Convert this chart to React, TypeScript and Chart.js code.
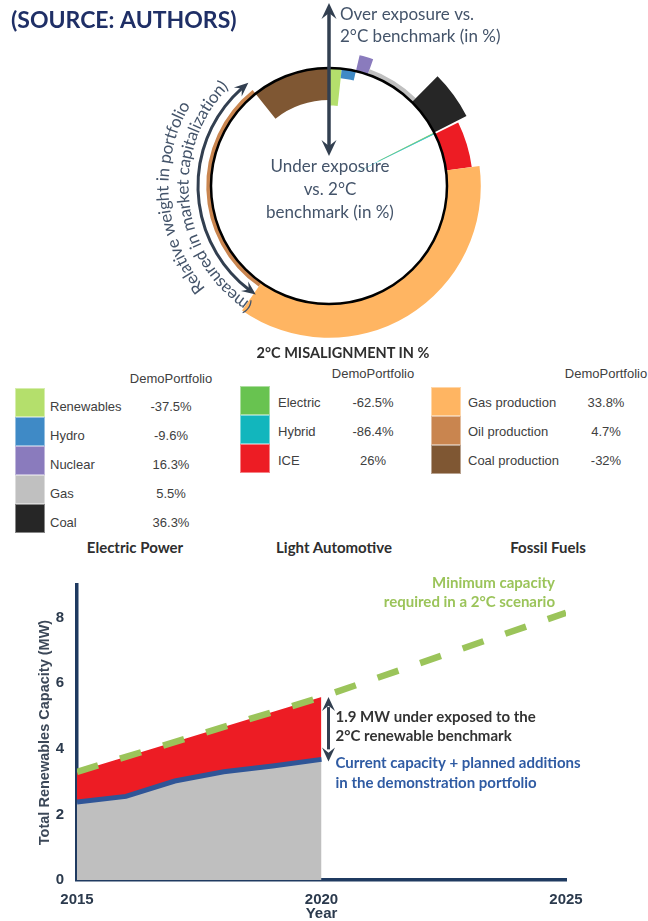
import React, { useEffect, useRef } from 'react';
import { Chart, registerables } from 'chart.js';

Chart.register(...registerables);

// ---------- ring (portfolio) data ----------
const sectors = ['Renewables', 'Hydro', 'Nuclear', 'Gas', 'Coal', 'Electric', 'Hybrid', 'ICE', 'Gas production', 'Oil production', 'Coal production'];
const sectorColors = ['#b4df6c', '#3f8ac6', '#8a7bbd', '#c0c0c0', '#262626', '#68c350', '#12b6bd', '#ed1c24', '#ffb562', '#c9854f', '#7f5733'];
const misalignment = [-37.5, -9.6, 16.3, 5.5, 36.3, -62.5, -86.4, 26, 33.8, 4.7, -32];
const portfolioWeight = [1.72, 1.94, 1.67, 7.08, 5.08, 0.11, 0.11, 5.17, 36.8, 29.58, 10.69];

const groupNames = ['Electric Power', 'Light Automotive', 'Fossil Fuels'];
const groupMembers = [[0, 1, 2, 3, 4], [5, 6, 7], [8, 9, 10]];
const legendHeader = 'DemoPortfolio';
const legendTitle = '2°C MISALIGNMENT IN %';
const sourceTitle = '(SOURCE: AUTHORS)';

// ---------- capacity chart data ----------
const capacityYears = [2015, 2016, 2017, 2018, 2019, 2020];
const currentCapacity = [2.38, 2.55, 3.02, 3.3, 3.48, 3.68];
const benchmarkYears = [2015, 2020, 2025];
const benchmarkCapacity = [3.3, 5.58, 8.15];
const xTickValues = [2015, 2020, 2025];
const yTickValues = [0, 2, 4, 6, 8];

const CAL = 'Lato, "Open Sans", sans-serif';
const ARIAL = '"Liberation Sans", Arial, sans-serif';
const SLATE = '#44546a';
const ARROW = '#323f50';
const NAVY = '#1f3a60';

const RING_R = 118;
const PX_PER_PCT = 1;

function arrowHead(ctx: CanvasRenderingContext2D, x: number, y: number, ang: number, len: number, half: number) {
  ctx.save();
  ctx.translate(x, y);
  ctx.rotate(ang);
  ctx.beginPath();
  ctx.moveTo(0, 0);
  ctx.lineTo(-len, -half);
  ctx.lineTo(-len * 0.62, 0);
  ctx.lineTo(-len, half);
  ctx.closePath();
  ctx.fill();
  ctx.restore();
}

function arcText(ctx: CanvasRenderingContext2D, text: string, cx: number, cy: number, r: number, centerDeg: number) {
  const total = ctx.measureText(text).width;
  let th = (centerDeg * Math.PI) / 180 - total / r / 2;
  ctx.textAlign = 'center';
  ctx.textBaseline = 'middle';
  for (const ch of text) {
    const w = ctx.measureText(ch).width;
    const t = th + w / 2 / r;
    ctx.save();
    ctx.translate(cx + r * Math.sin(t), cy - r * Math.cos(t));
    ctx.rotate(t);
    ctx.fillText(ch, 0, 0);
    ctx.restore();
    th += w / r;
  }
}

const ringPlugin = {
  id: 'ringPlugin',
  afterDatasetsUpdate(chart: any) {
    const meta = chart.getDatasetMeta(0);
    meta.data.forEach((arc: any, i: number) => {
      const r1 = RING_R + misalignment[i] * PX_PER_PCT;
      arc.innerRadius = Math.min(RING_R, r1);
      arc.outerRadius = Math.max(RING_R, r1);
    });
  },
  afterDraw(chart: any) {
    const ctx: CanvasRenderingContext2D = chart.ctx;
    const a0 = chart.getDatasetMeta(0).data[0];
    const cx = a0.x, cy = a0.y;
    ctx.save();
    // base circle
    ctx.beginPath();
    ctx.arc(cx, cy, RING_R, 0, Math.PI * 2);
    ctx.lineWidth = 2.5;
    ctx.strokeStyle = '#000';
    ctx.stroke();

    // title
    ctx.fillStyle = '#1f2f66';
    ctx.font = `bold 23px ${CAL}`;
    ctx.textAlign = 'left';
    ctx.textBaseline = 'middle';
    ctx.fillText(sourceTitle, 11, 21);

    // vertical double arrow
    ctx.strokeStyle = ARROW;
    ctx.fillStyle = ARROW;
    ctx.lineWidth = 3.5;
    ctx.beginPath();
    ctx.moveTo(cx, 12);
    ctx.lineTo(cx, 146);
    ctx.stroke();
    arrowHead(ctx, cx, 3, -Math.PI / 2, 16, 7.5);
    arrowHead(ctx, cx, 156, Math.PI / 2, 16, 7.5);

    // left curved arrow
    const ar = 131;
    const t1 = (214 * Math.PI) / 180, t2 = (322 * Math.PI) / 180;
    ctx.lineWidth = 3;
    ctx.beginPath();
    ctx.arc(cx, cy, ar, t1 - Math.PI / 2 + 0.06, t2 - Math.PI / 2 - 0.06);
    ctx.stroke();
    arrowHead(ctx, cx + ar * Math.sin(t2), cy - ar * Math.cos(t2), t2 - 0.05, 14, 6);
    arrowHead(ctx, cx + ar * Math.sin(t1), cy - ar * Math.cos(t1), t1 + Math.PI + 0.05, 14, 6);

    // texts
    ctx.fillStyle = SLATE;
    ctx.font = `17px ${CAL}`;
    ctx.textAlign = 'left';
    ctx.fillText('Over exposure vs.', cx + 11, 15);
    ctx.fillText('2°C benchmark (in %)', cx + 11, 37);
    ctx.textAlign = 'center';
    ctx.fillText('Under exposure', cx + 1, 167);
    ctx.fillText('vs. 2°C', cx + 1, 190);
    ctx.fillText('benchmark (in %)', cx + 1, 213);

    ctx.font = `17px ${CAL}`;
    arcText(ctx, 'Relative weight in portfolio', cx, cy, 166, 265);
    arcText(ctx, '(measured in market capitalization)', cx, cy, 146, 263.5);
    ctx.restore();
  },
};

const capacityPlugin = {
  id: 'capacityPlugin',
  afterDatasetsDraw(chart: any) {
    const ctx: CanvasRenderingContext2D = chart.ctx;
    const xs = chart.scales.x, ys = chart.scales.y;
    const iB = benchmarkYears.indexOf(2020);
    const iC = capacityYears.indexOf(2020);
    const xA = xs.getPixelForValue(2020) + 7;
    const yT = ys.getPixelForValue(benchmarkCapacity[iB]);
    const yB = ys.getPixelForValue(currentCapacity[iC]);
    ctx.save();
    ctx.strokeStyle = ARROW;
    ctx.fillStyle = ARROW;
    ctx.lineWidth = 3;
    ctx.beginPath();
    ctx.moveTo(xA, yT + 10);
    ctx.lineTo(xA, yB - 10);
    ctx.stroke();
    arrowHead(ctx, xA, yT, -Math.PI / 2, 14, 6.5);
    arrowHead(ctx, xA, yB + 2, Math.PI / 2, 14, 6.5);

    ctx.textAlign = 'left';
    ctx.textBaseline = 'middle';
    ctx.font = `bold 15px ${CAL}`;
    ctx.fillStyle = '#333';
    ctx.fillText('1.9 MW under exposed to the', xA + 7, yT + 20);
    ctx.fillText('2°C renewable benchmark', xA + 7, yT + 39);
    ctx.fillStyle = '#2f5ba3';
    ctx.fillText('Current capacity + planned additions', xA + 7, yB + 4);
    ctx.fillText('in the demonstration portfolio', xA + 7, yB + 24);
    ctx.fillStyle = '#9bc45a';
    ctx.textAlign = 'right';
    ctx.fillText('Minimum capacity', 555, 23);
    ctx.fillText('required in a 2°C scenario', 555, 42);
    ctx.restore();
  },
};

const legendLayout = [
  { swX: 15, top: 388, labelX: 50, valX: 171, headY: 379, textOff: 19, groupX: 135 },
  { swX: 240, top: 386, labelX: 278, valX: 373, headY: 374, textOff: 17, groupX: 334 },
  { swX: 431, top: 387, labelX: 468, valX: 606, headY: 374, textOff: 16, groupX: 548 },
];
const ROW_H = 29;

export default function App() {
  const topRef = useRef<HTMLCanvasElement>(null);
  const botRef = useRef<HTMLCanvasElement>(null);

  useEffect(() => {
    const top = new Chart(topRef.current as HTMLCanvasElement, {
      type: 'doughnut',
      data: {
        labels: sectors,
        datasets: [{ data: portfolioWeight, backgroundColor: sectorColors, borderWidth: 0, hoverOffset: 0 } as any],
      },
      options: {
        responsive: false,
        animation: false,
        events: [],
        layout: { padding: { left: 179, right: 169, top: 36, bottom: 9 } },
        plugins: { legend: { display: false }, tooltip: { enabled: false } },
      } as any,
      plugins: [ringPlugin as any],
    });

    const tickFont = { family: ARIAL, weight: 'bold' as const, size: 15 };
    const bot = new Chart(botRef.current as HTMLCanvasElement, {
      type: 'line',
      data: {
        datasets: [
          {
            label: 'Minimum capacity required in a 2°C scenario',
            data: benchmarkYears.map((x, i) => ({ x, y: benchmarkCapacity[i] })),
            borderColor: '#9bc45a',
            borderWidth: 6.5,
            borderDash: [22, 23],
            borderCapStyle: 'butt',
            pointRadius: 0,
            tension: 0,
            fill: { target: 1, above: '#ed1c24', below: 'rgba(0,0,0,0)' },
          },
          {
            label: 'Current capacity + planned additions',
            data: capacityYears.map((x, i) => ({ x, y: currentCapacity[i] })),
            borderColor: '#2f5597',
            borderWidth: 5,
            pointRadius: 0,
            tension: 0,
            fill: 'origin',
            backgroundColor: '#bfbfbf',
          },
        ] as any,
      },
      options: {
        responsive: false,
        animation: false,
        events: [],
        layout: { padding: { left: 0, right: 82, top: 25, bottom: 0 } },
        plugins: {
          legend: { display: false },
          tooltip: { enabled: false },
          filler: { drawTime: 'beforeDatasetsDraw' },
        },
        scales: {
          x: {
            type: 'linear',
            min: 2015,
            max: 2025,
            afterBuildTicks: (s: any) => { s.ticks = xTickValues.map((v) => ({ value: v })); },
            afterFit: (s: any) => { s.height = 41; },
            grid: { display: false, drawTicks: false },
            border: { display: true, color: NAVY, width: 3.5 },
            ticks: { padding: 11, color: '#2b3a4d', font: tickFont, callback: (v: any) => String(v), maxRotation: 0, autoSkip: false },
            title: { display: true, text: 'Year', color: '#2b3a4d', font: { family: ARIAL, weight: 'bold', size: 15, lineHeight: 1 }, padding: { top: 0, bottom: 0 } },
          },
          y: {
            type: 'linear',
            min: 0,
            max: 9,
            afterBuildTicks: (s: any) => { s.ticks = yTickValues.map((v) => ({ value: v })); },
            afterFit: (s: any) => { s.width = 77; },
            grid: { display: false, drawTicks: false },
            border: { display: true, color: NAVY, width: 3.5 },
            ticks: { padding: 13, color: '#2b3a4d', font: tickFont, autoSkip: false },
            title: { display: true, text: 'Total Renewables Capacity (MW)', color: '#3c4858', font: { family: ARIAL, weight: 'bold', size: 14.5, lineHeight: 1.2 }, padding: { top: 36, bottom: 0 } },
          },
        },
      } as any,
      plugins: [capacityPlugin as any],
    });

    return () => {
      top.destroy();
      bot.destroy();
    };
  }, []);

  const fmt = (v: number) => `${v}%`;

  return (
    <div style={{ position: 'absolute', left: 0, top: 0, width: 648, height: 921, background: '#fff', overflow: 'hidden' }}>
      <canvas ref={topRef} width={648} height={345} style={{ position: 'absolute', left: 0, top: 0, width: 648, height: 345 }} />
      <div style={{ position: 'absolute', left: 0, width: 648, top: 344, textAlign: 'center', fontFamily: CAL, fontWeight: 700, fontSize: 14.5, lineHeight: '18px', color: '#2e2e2e', paddingLeft: 38, boxSizing: 'border-box' }}>
        {legendTitle}
      </div>
      {groupMembers.map((members, g) => {
        const L = legendLayout[g];
        return (
          <React.Fragment key={g}>
            <div style={{ position: 'absolute', left: L.valX - 60, width: 120, top: L.headY - 9, textAlign: 'center', fontFamily: ARIAL, fontSize: 13, lineHeight: '18px', color: '#404040' }}>{legendHeader}</div>
            {members.map((m, r) => (
              <React.Fragment key={m}>
                <div style={{ position: 'absolute', left: L.swX, top: L.top + r * ROW_H, width: 30, height: ROW_H, background: sectorColors[m], boxShadow: 'inset 0 0 0 1px rgba(255,255,255,0.45)' }} />
                <div style={{ position: 'absolute', left: L.labelX, top: L.top + r * ROW_H + L.textOff - 9, fontFamily: ARIAL, fontSize: 13, lineHeight: '18px', color: '#404040', whiteSpace: 'nowrap' }}>{sectors[m]}</div>
                <div style={{ position: 'absolute', left: L.valX - 50, width: 100, top: L.top + r * ROW_H + L.textOff - 9, textAlign: 'center', fontFamily: ARIAL, fontSize: 13, lineHeight: '18px', color: '#404040' }}>{fmt(misalignment[m])}</div>
              </React.Fragment>
            ))}
            <div style={{ position: 'absolute', left: L.groupX - 100, width: 200, top: 538, textAlign: 'center', fontFamily: CAL, fontWeight: 700, fontSize: 15, lineHeight: '18px', color: '#2e2e2e' }}>{groupNames[g]}</div>
          </React.Fragment>
        );
      })}
      <canvas ref={botRef} width={648} height={361} style={{ position: 'absolute', left: 0, top: 560, width: 648, height: 361 }} />
    </div>
  );
}
